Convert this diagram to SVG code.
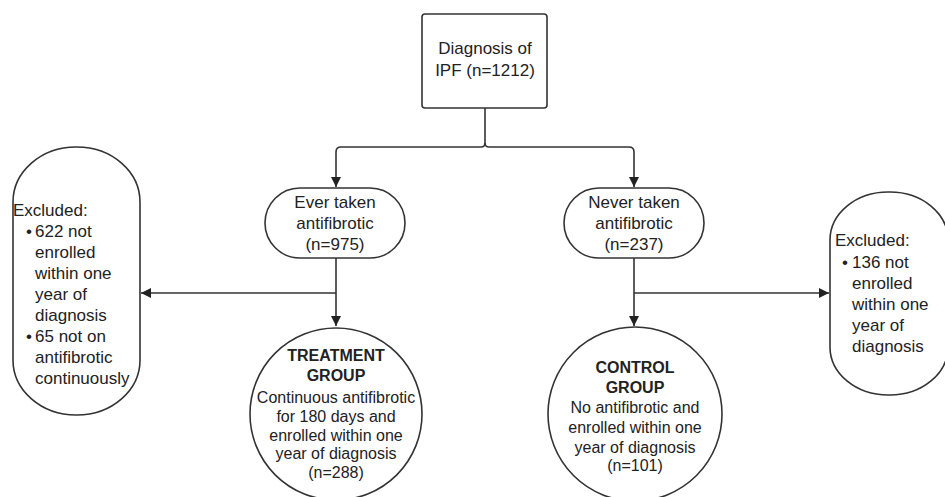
<svg xmlns="http://www.w3.org/2000/svg" width="945" height="497" viewBox="0 0 945 497">
<defs>
<marker id="ah" viewBox="0 0 10 10" refX="10" refY="5" markerWidth="10" markerHeight="10" markerUnits="userSpaceOnUse" orient="auto">
<path d="M0,0 L10,5 L0,10 z" fill="#222"/>
</marker>
<style>
.shape{fill:#fff;stroke:#333;stroke-width:1.6}
.line{fill:none;stroke:#333;stroke-width:1.6}
text{font-family:"Liberation Sans",Arial,sans-serif;font-size:17px;fill:#222}
.c{text-anchor:middle}
.s{font-size:16px}
.b{font-weight:bold}
</style>
</defs>
<rect width="945" height="497" fill="#fff"/>
<g id="connectors">
<path class="line" d="M485,108 V143 Q485,147 481,147 H341 Q336,147 336,152 V187" marker-end="url(#ah)"/>
<path class="line" d="M485,143 Q485,147 489,147 H629 Q634,147 634,152 V187" marker-end="url(#ah)"/>
<path class="line" d="M336,258 V326" marker-end="url(#ah)"/>
<path class="line" d="M336,293 H141" marker-end="url(#ah)"/>
<path class="line" d="M634,258 V326" marker-end="url(#ah)"/>
<path class="line" d="M634,293 H829" marker-end="url(#ah)"/>
</g>
<g id="diagnosis">
<rect class="shape" x="422" y="14" width="125" height="94" rx="3"/>
<text class="c" x="485" y="54">Diagnosis of</text>
<text class="c" x="485" y="76">IPF (n=1212)</text>
</g>
<g id="ever">
<rect class="shape" x="265" y="188" width="140" height="70" rx="35"/>
<text class="c" x="335" y="208">Ever taken</text>
<text class="c" x="335" y="229">antifibrotic</text>
<text class="c" x="335" y="250">(n=975)</text>
</g>
<g id="never">
<rect class="shape" x="564" y="188" width="140" height="70" rx="35"/>
<text class="c" x="634" y="208">Never taken</text>
<text class="c" x="634" y="229">antifibrotic</text>
<text class="c" x="634" y="250">(n=237)</text>
</g>
<g id="excluded-left">
<rect class="shape" x="13" y="147" width="127" height="268" rx="63" ry="55"/>
<text x="13" y="216">Excluded:</text>
<text x="26" y="237">•</text>
<text x="35" y="237">622 not</text>
<text x="35" y="258">enrolled</text>
<text x="35" y="279">within one</text>
<text x="35" y="300">year of</text>
<text x="35" y="321">diagnosis</text>
<text x="26" y="342">•</text>
<text x="35" y="342">65 not on</text>
<text x="35" y="363">antifibrotic</text>
<text x="35" y="384">continuously</text>
</g>
<g id="excluded-right">
<rect class="shape" x="830" y="192" width="118" height="203" rx="58" ry="48"/>
<text x="835" y="246">Excluded:</text>
<text x="842" y="268">•</text>
<text x="852" y="268">136 not</text>
<text x="852" y="289">enrolled</text>
<text x="852" y="310">within one</text>
<text x="852" y="331">year of</text>
<text x="852" y="352">diagnosis</text>
</g>
<g id="treatment">
<circle class="shape" cx="336" cy="414" r="86"/>
<text class="c s b" x="336" y="361">TREATMENT</text>
<text class="c s b" x="336" y="381">GROUP</text>
<text class="c s" x="336" y="403">Continuous antifibrotic</text>
<text class="c s" x="336" y="422">for 180 days and</text>
<text class="c s" x="336" y="441">enrolled within one</text>
<text class="c s" x="336" y="459">year of diagnosis</text>
<text class="c s" x="336" y="478">(n=288)</text>
</g>
<g id="control">
<circle class="shape" cx="635" cy="414" r="87"/>
<text class="c s b" x="635" y="373">CONTROL</text>
<text class="c s b" x="635" y="393">GROUP</text>
<text class="c s" x="635" y="413">No antifibrotic and</text>
<text class="c s" x="635" y="433">enrolled within one</text>
<text class="c s" x="635" y="453">year of diagnosis</text>
<text class="c s" x="635" y="471">(n=101)</text>
</g>
</svg>
